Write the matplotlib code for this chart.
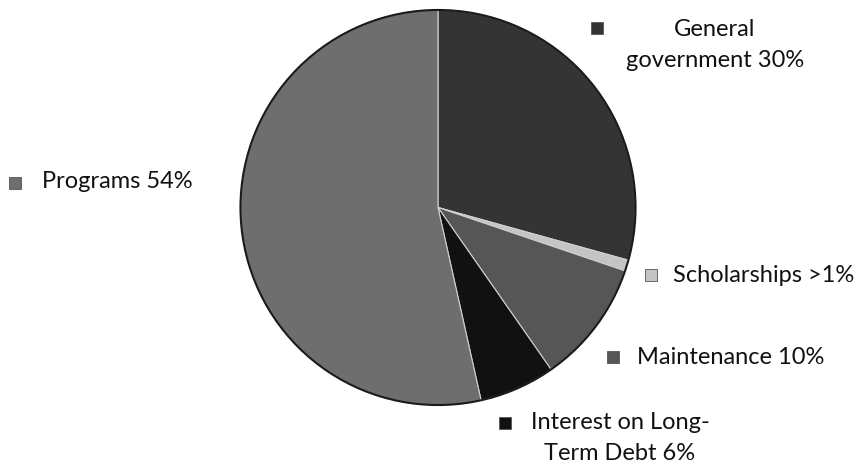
import matplotlib
matplotlib.use("Agg")
import matplotlib.pyplot as plt
from matplotlib.patches import Rectangle

# ---- data ----
labels = ["General government", "Scholarships", "Maintenance",
          "Interest on Long-Term Debt", "Programs"]
values = [29.3, 0.9, 10.1, 6.2, 53.5]
label_texts = ["General\ngovernment 30%", "Scholarships >1%", "Maintenance 10%",
               "Interest on Long-\nTerm Debt 6%", "Programs 54%"]
colors = ["#343434", "#c4c4c4", "#565656", "#111111", "#6e6e6e"]

W, H = 864, 468
plt.rcParams["font.family"] = ["Lato", "DejaVu Sans"]

fig = plt.figure(figsize=(W / 100, H / 100), dpi=100)

# pie centre and radius in pixels (from top-left)
cx, cy, r = 438, 207.5, 199.5
ax = fig.add_axes([(cx - r) / W, (H - cy - r) / H, 2 * r / W, 2 * r / H])
ax.pie(values, colors=colors, startangle=90, counterclock=False, radius=1,
       wedgeprops=dict(edgecolor="#d0d0d0", linewidth=0.8))
ax.add_patch(plt.Circle((0, 0), 1, fill=False, edgecolor="#1a1a1a", linewidth=1.5))
ax.set_xlim(-1.01, 1.01)
ax.set_ylim(-1.01, 1.01)
ax.set_aspect("equal")
ax.axis("off")

# label layout: marker centre, text anchor, horizontal alignment (pixels)
label_pos = [
    ((597, 28), (715, 45), "center"),
    ((651, 275), (673, 275), "left"),
    ((613, 357), (637, 357), "left"),
    ((505, 423), (620, 438), "center"),
    ((15, 183), (42, 182), "left"),
]


def px(x, y):
    return x / W, 1 - y / H


for (mpos, tpos, ha), txt, col in zip(label_pos, label_texts, colors):
    s = 12
    fig.patches.append(Rectangle(px(mpos[0] - s / 2, mpos[1] + s / 2), s / W, s / H,
                                 transform=fig.transFigure, facecolor=col,
                                 edgecolor="#555555", linewidth=0.6))
    fig.text(*px(*tpos), txt, ha=ha, va="center", fontsize=17,
             color="#111111", linespacing=1.55, multialignment="center")

fig.savefig("out.png", dpi=100, facecolor="white")
